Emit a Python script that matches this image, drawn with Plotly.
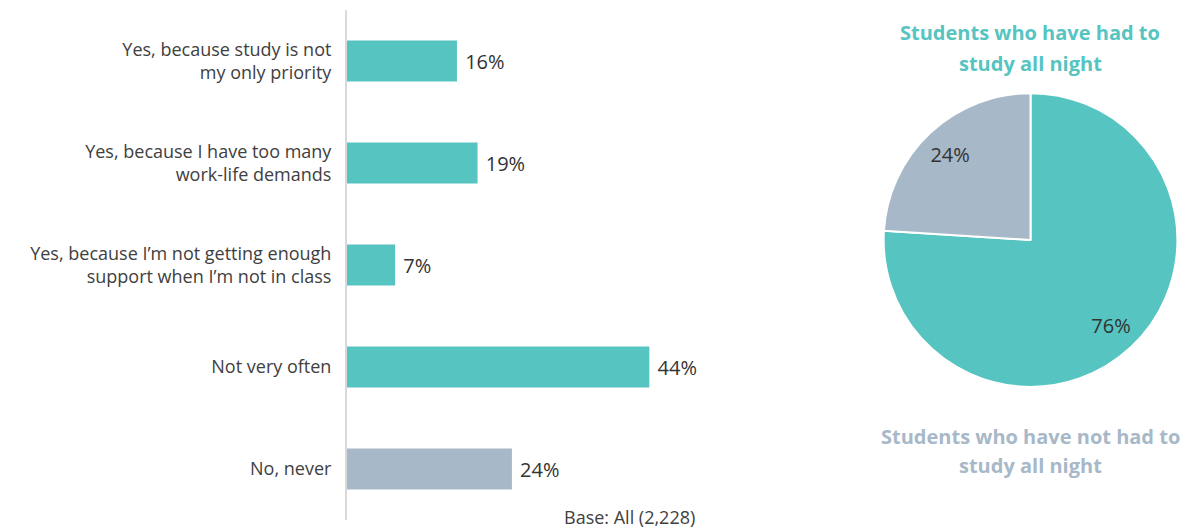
import plotly.graph_objects as go

categories = [
    "Yes, because study is not<br>my only priority",
    "Yes, because I have too many<br>work-life demands",
    "Yes, because I\u2019m not getting enough<br>support when I\u2019m not in class",
    "Not very often",
    "No, never",
]
bar_values = [16, 19, 7, 44, 24]
pie_labels = ["Students who have had to study all night", "Students who have not had to study all night"]
pie_values = [76, 24]
title_had = ["Students who have had to", "study all night"]
title_not = ["Students who have not had to", "study all night"]

TEAL = "#56C4C1"
GREY = "#A7B8C8"
TXT = "#404040"
FONT = "Open Sans"

bar_colors = [TEAL, TEAL, TEAL, TEAL, GREY]
PIE_DOMAIN = dict(x=[0.6327, 0.9794], y=[0.261, 0.837])

fig = go.Figure()
fig.add_trace(go.Bar(
    x=bar_values, y=categories, orientation="h",
    marker=dict(color=bar_colors, line=dict(width=0)),
    texttemplate=" %{x}%", textposition="outside",
    textfont=dict(size=20, color="#333333", family=FONT),
    cliponaxis=False, width=0.4, hoverinfo="skip",
))
# solid pie
fig.add_trace(go.Pie(
    values=pie_values, labels=pie_labels, sort=False, direction="clockwise", rotation=0,
    marker=dict(colors=[TEAL, GREY], line=dict(color="white", width=2)),
    textinfo="none", domain=PIE_DOMAIN, showlegend=False, hoverinfo="skip",
))
# transparent ring carrying the percentage labels further out
fig.add_trace(go.Pie(
    values=pie_values, labels=pie_labels, sort=False, direction="clockwise", rotation=0,
    hole=0.6,
    marker=dict(colors=["rgba(0,0,0,0)", "rgba(0,0,0,0)"], line=dict(width=0)),
    texttemplate="%{value}%", textposition="inside", insidetextorientation="horizontal",
    textfont=dict(size=20, color="#333333", family=FONT),
    domain=PIE_DOMAIN, showlegend=False, hoverinfo="skip",
))

annotations = [
    dict(text="Base: All (2,228)", x=0.2535, y=0.006, xref="paper", yref="paper",
         xanchor="left", yanchor="middle", showarrow=False,
         font=dict(size=18, color=TXT, family=FONT)),
]
for txt, yy in zip(title_had, [0.955, 0.896]):
    annotations.append(dict(text=f"<b>{txt}</b>", x=0.806, y=yy, xref="paper", yref="paper",
                            xanchor="center", yanchor="middle", showarrow=False,
                            font=dict(size=20, color=TEAL, family=FONT)))
for txt, yy in zip(title_not, [0.163, 0.106]):
    annotations.append(dict(text=f"<b>{txt}</b>", x=0.806, y=yy, xref="paper", yref="paper",
                            xanchor="center", yanchor="middle", showarrow=False,
                            font=dict(size=20, color=GREY, family=FONT)))

fig.update_layout(
    width=1195, height=529,
    margin=dict(l=347, r=0, t=10, b=9),
    paper_bgcolor="white", plot_bgcolor="white",
    font=dict(family=FONT, color=TXT, size=18),
    showlegend=False,
    xaxis=dict(domain=[0, 0.41], range=[0, 50.6], visible=False, fixedrange=True),
    yaxis=dict(
        autorange="reversed", showline=True, linecolor="#D9D9D9", linewidth=2,
        showgrid=False, zeroline=False, ticks="", ticklabelstandoff=10,
        tickfont=dict(size=18, color=TXT, family=FONT),
    ),
    annotations=annotations,
)

fig.write_html("out.html")
